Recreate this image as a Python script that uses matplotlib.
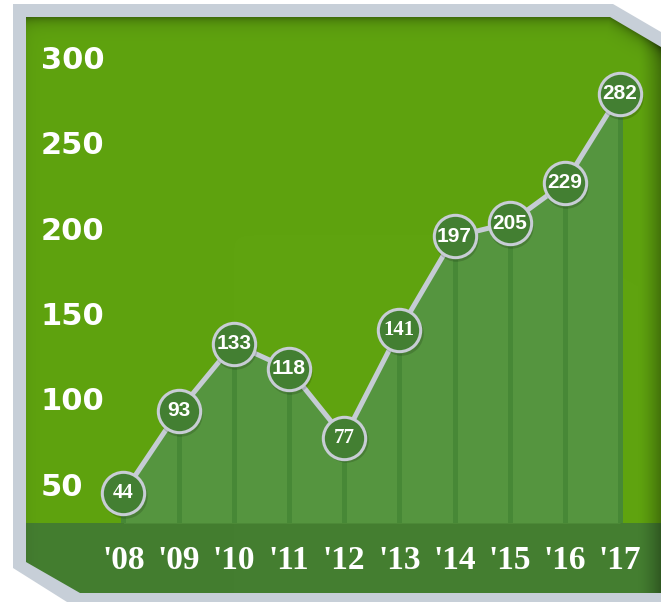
import numpy as np
import matplotlib.pyplot as plt
from matplotlib.patches import Polygon
from matplotlib.colors import to_rgb
from matplotlib.transforms import ScaledTranslation

years = ["'08", "'09", "'10", "'11", "'12", "'13", "'14", "'15", "'16", "'17"]
values = [44, 93, 133, 118, 77, 141, 197, 205, 229, 282]
serif_values = [44, 77, 141]   # these bubbles use a slab face in the original
y_ticks = [50, 100, 150, 200, 250, 300]

W, H = 661, 602
GREEN = '#5fa30f'
BAND = '#447e30'
FILL = '#55953f'
STEM = '#478836'
DOT = '#437f32'
GREY = '#c7cfd8'
LINE = '#c5ccd4'

fig = plt.figure(figsize=(W / 100, H / 100), dpi=100)

# frame drawn in pixel coordinates
bg = fig.add_axes([0, 0, 1, 1])
bg.set_xlim(0, W)
bg.set_ylim(H, 0)
bg.axis('off')

outer = [(13, 4), (613, 4), (661, 32), (661, 602), (67, 602), (13, 568)]
inner = [(26, 17), (610, 17), (661, 47), (661, 593), (80, 593), (26, 562)]
bg.add_patch(Polygon(outer, closed=True, fc=GREY, ec='none', zorder=0))

yy, xx = np.mgrid[0:H, 0:W] + 0.5
img = np.empty((H, W, 3))
img[:] = to_rgb(GREEN)
img[yy >= 523] = to_rgb(BAND)
d_top = yy - 17
d_diag = ((yy - 17) * 51 - (xx - 610) * 30) / np.hypot(51, 30)
d = np.clip(np.minimum(d_top, d_diag), 0, None)
shade = 0.35 * np.exp(-d / 6)
shade += 0.3 * np.clip((xx - 638) / 23, 0, 1) ** 1.5
shade += 0.06 * np.exp(-np.clip(xx - 26, 0, None) / 6)
img *= (1 - np.clip(shade, 0, 0.6))[..., None]
im = bg.imshow(img, extent=(0, W, H, 0), aspect='auto', zorder=1,
               interpolation='bilinear')
clip = Polygon(inner, closed=True, fc='none', ec='none', transform=bg.transData)
im.set_clip_path(clip)
bg.set_xlim(0, W)
bg.set_ylim(H, 0)

# plot area
x0, x1, y0, y1 = 26, 661, 17, 523
ax = fig.add_axes([x0 / W, 1 - y1 / H, (x1 - x0) / W, (y1 - y0) / H])
ax.patch.set_alpha(0)
for s in ax.spines.values():
    s.set_visible(False)

x = np.arange(len(values))
ybot, ytop = 26.1, 327.9
ax.set_xlim(-1.767, 9.743)
ax.set_ylim(ybot, ytop)

ax.fill_between(x, values, ybot, color=FILL, lw=0, zorder=1)
ax.vlines(x, ybot, values, color=STEM, lw=3.6, zorder=2)
ax.plot(x, values, color=LINE, lw=3.6, zorder=3)
shadow = ax.transData + ScaledTranslation(1 / 72, -2 / 72, fig.dpi_scale_trans)
ax.plot(x, values, 'o', ls='none', ms=32, mfc='black', mec='none',
        alpha=0.15, zorder=3.5, clip_on=False, transform=shadow)
ax.plot(x, values, 'o', ls='none', ms=30.5, mfc=DOT, mec='#c8cdd5', mew=2.2,
        zorder=4, clip_on=False)

for xi, v in zip(x, values):
    fam = 'Liberation Serif' if v in serif_values else 'Liberation Sans'
    ax.text(xi, v, str(v), ha='center', va='center', color='white',
            fontsize=15, fontweight='bold', family=fam, zorder=5)

ax.set_xticks(x, years)
ax.tick_params(axis='x', length=0, pad=16, labelsize=24, labelcolor='white')
for t in ax.get_xticklabels():
    t.set_fontfamily('Liberation Serif')
    t.set_fontweight('bold')

ax.set_yticks(y_ticks)
ax.tick_params(axis='y', length=0, pad=-10.8, labelsize=22, labelcolor='white')
# the original's axis labels are spaced a touch wider than the data scale
for v, t in zip(y_ticks, ax.get_yticklabels()):
    lift_px = -1.5 + (v - 50) / 250 * 8
    t.set_ha('left')
    t.set_fontweight('bold')
    t.set_transform(t.get_transform() +
                    ScaledTranslation(0, lift_px / 100, fig.dpi_scale_trans))

fig.savefig('out.png', dpi=100)
